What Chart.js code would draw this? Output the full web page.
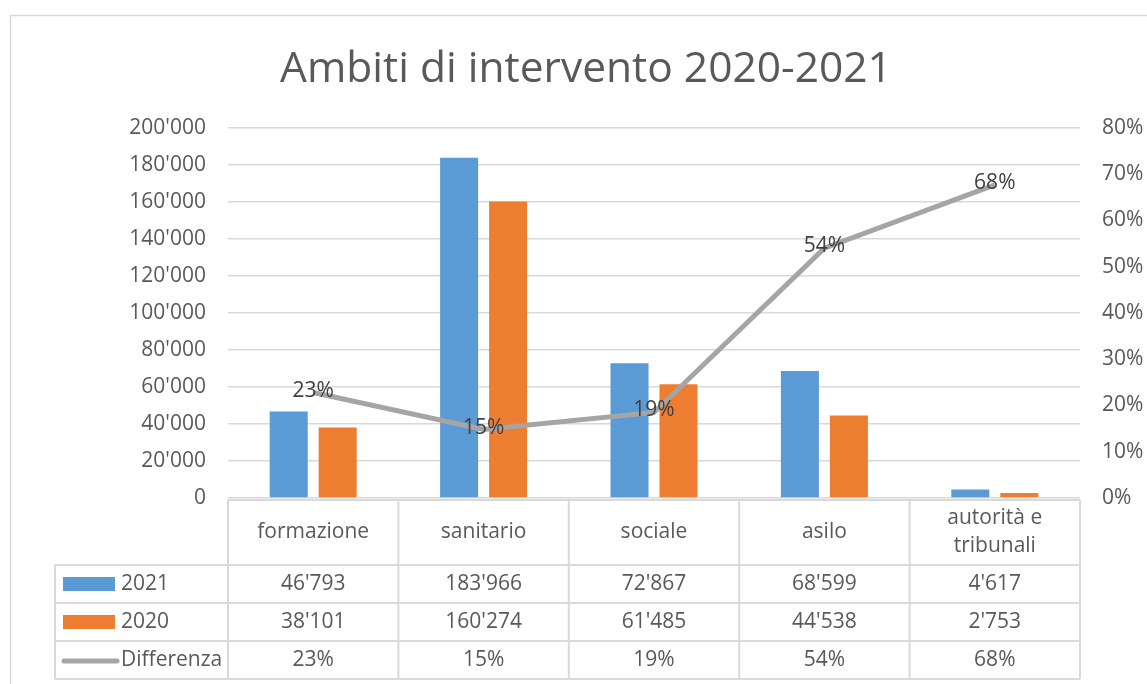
<!DOCTYPE html>
<html>
<head>
<meta charset="utf-8">
<script src="https://cdn.jsdelivr.net/npm/chart.js@4/dist/chart.umd.min.js"></script>
<style>
    body { margin: 0; background: #fff; }
    #box { width: 1147px; height: 684px; }
</style>
</head>
<body>
<div id="box"><canvas id="ambitiChart" width="1147" height="684"></canvas></div>
<script>
const categorie = ['formazione', 'sanitario', 'sociale', 'asilo', ['autorità e', 'tribunali']];
const valori2021 = [46793, 183966, 72867, 68599, 4617];
const valori2020 = [38101, 160274, 61485, 44538, 2753];
const differenza = [0.228, 0.148, 0.185, 0.540, 0.677];
const titolo = 'Ambiti di intervento 2020-2021';

const BLU = '#5b9bd5';
const ARANCIO = '#ed7d31';
const GRIGIO = '#a5a5a5';
const TESTO = '#595959';
const GRIGLIA = '#d9d9d9';
const FONT = "'Open Sans', sans-serif";

Chart.defaults.font.family = FONT;
Chart.defaults.color = TESTO;

function migliaia(n) {
    return String(n).replace(/\B(?=(\d{3})+(?!\d))/g, "'");
}
function perc(v) {
    return Math.round(v * 100) + '%';
}

// sfondo bianco, bordo esterno e titolo
const sfondo = {
    id: 'sfondo',
    beforeDraw(chart) {
        const ctx = chart.ctx;
        ctx.save();
        ctx.fillStyle = '#fff';
        ctx.fillRect(0, 0, chart.width, chart.height);
        ctx.strokeStyle = GRIGLIA;
        ctx.lineWidth = 1.5;
        ctx.strokeRect(10.5, 15.5, chart.width + 20, chart.height + 20);
        ctx.font = '42.5px ' + FONT;
        ctx.fillStyle = TESTO;
        ctx.textAlign = 'center';
        ctx.textBaseline = 'alphabetic';
        ctx.fillText(titolo, 586, 82);
        ctx.restore();
    }
};

// etichette sulla linea della differenza
const etichette = {
    id: 'etichette',
    afterDatasetsDraw(chart) {
        const ctx = chart.ctx;
        const meta = chart.getDatasetMeta(2);
        ctx.save();
        ctx.font = '21px ' + FONT;
        ctx.fillStyle = '#404040';
        ctx.textAlign = 'center';
        ctx.textBaseline = 'middle';
        meta.data.forEach((p, i) => {
            ctx.fillText(perc(differenza[i]), p.x, p.y - 2);
        });
        ctx.restore();
    }
};

// tabella dati sotto il grafico
const tabella = {
    id: 'tabella',
    afterDraw(chart) {
        const ctx = chart.ctx;
        const x = chart.scales.x;
        const area = chart.chartArea;
        const passo = x.width / categorie.length;
        const top = area.bottom + 2;
        const hHead = 65;
        const hRiga = 38;
        const sinistra = 55;
        const fondo = top + hHead + hRiga * 3;

        ctx.save();
        ctx.strokeStyle = GRIGLIA;
        ctx.lineWidth = 2;
        ctx.beginPath();
        ctx.moveTo(area.left, top); ctx.lineTo(area.right, top);
        for (let r = 0; r <= 3; r++) {
            const y = top + hHead + r * hRiga;
            ctx.moveTo(sinistra, y); ctx.lineTo(area.right, y);
        }
        ctx.moveTo(sinistra, top + hHead); ctx.lineTo(sinistra, fondo);
        for (let i = 0; i <= categorie.length; i++) {
            const xx = area.left + i * passo;
            ctx.moveTo(xx, top); ctx.lineTo(xx, fondo);
        }
        ctx.stroke();

        ctx.font = '21px ' + FONT;
        ctx.fillStyle = TESTO;
        ctx.textAlign = 'center';
        ctx.textBaseline = 'middle';
        categorie.forEach((c, i) => {
            const cx = x.getPixelForValue(i);
            const righe = Array.isArray(c) ? c : [c];
            righe.forEach((t, k) => {
                ctx.fillText(t, cx, top + hHead / 2 + (k - (righe.length - 1) / 2) * 28);
            });
            ctx.fillText(migliaia(valori2021[i]), cx, top + hHead + hRiga * 0.5);
            ctx.fillText(migliaia(valori2020[i]), cx, top + hHead + hRiga * 1.5);
            ctx.fillText(perc(differenza[i]), cx, top + hHead + hRiga * 2.5);
        });

        const serie = chart.data.datasets;
        const nomi = ['2021', '2020', 'Differenza'];
        ctx.textAlign = 'left';
        nomi.forEach((n, r) => {
            const cy = top + hHead + hRiga * (r + 0.5);
            if (r < 2) {
                ctx.fillStyle = serie[r].backgroundColor;
                ctx.fillRect(sinistra + 8, cy - 7, 52, 14);
            } else {
                ctx.strokeStyle = serie[2].borderColor;
                ctx.lineWidth = 5;
                ctx.lineCap = 'round';
                ctx.beginPath();
                ctx.moveTo(sinistra + 9, cy + 1);
                ctx.lineTo(sinistra + 62, cy + 1);
                ctx.stroke();
            }
            ctx.fillStyle = TESTO;
            ctx.fillText(n, sinistra + 66, cy);
        });
        ctx.restore();
    }
};

const ctx = document.getElementById('ambitiChart').getContext('2d');
new Chart(ctx, {
    data: {
        labels: categorie,
        datasets: [
            {
                type: 'bar',
                label: '2021',
                data: valori2021,
                backgroundColor: BLU,
                yAxisID: 'y',
                order: 2,
                categoryPercentage: 0.575,
                barPercentage: 0.776
            },
            {
                type: 'bar',
                label: '2020',
                data: valori2020,
                backgroundColor: ARANCIO,
                yAxisID: 'y',
                order: 2,
                categoryPercentage: 0.575,
                barPercentage: 0.776
            },
            {
                type: 'line',
                label: 'Differenza',
                data: differenza,
                borderColor: GRIGIO,
                backgroundColor: GRIGIO,
                borderWidth: 5,
                pointRadius: 0,
                tension: 0,
                yAxisID: 'y1',
                order: 1
            }
        ]
    },
    options: {
        responsive: false,
        animation: false,
        layout: {
            padding: { left: 0, right: 0, top: 128, bottom: 186 }
        },
        plugins: {
            legend: { display: false },
            tooltip: { enabled: false },
            title: { display: false }
        },
        scales: {
            x: {
                display: false
            },
            y: {
                position: 'left',
                min: 0,
                max: 200000,
                ticks: {
                    stepSize: 20000,
                    padding: 22,
                    color: TESTO,
                    font: { size: 21 },
                    callback: v => migliaia(v)
                },
                grid: { color: GRIGLIA, lineWidth: 1.5, drawTicks: false },
                border: { display: false },
                afterFit(scale) { scale.width = 228; }
            },
            y1: {
                position: 'right',
                min: 0,
                max: 0.8,
                ticks: {
                    stepSize: 0.1,
                    padding: 22,
                    color: TESTO,
                    font: { size: 21 },
                    callback: v => perc(v)
                },
                grid: { drawOnChartArea: false, drawTicks: false },
                border: { display: false },
                afterFit(scale) { scale.width = 67; }
            }
        }
    },
    plugins: [sfondo, etichette, tabella]
});
</script>
</body>
</html>
